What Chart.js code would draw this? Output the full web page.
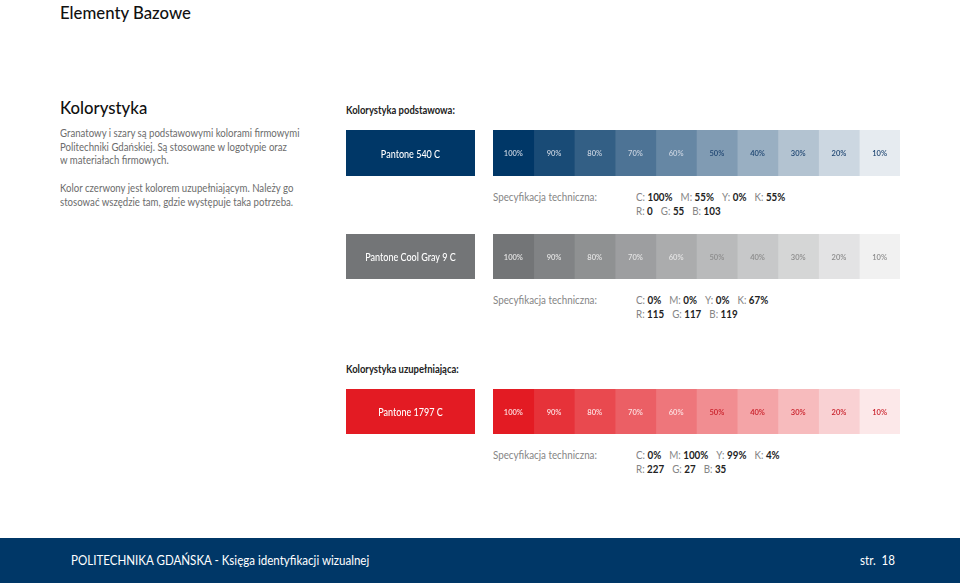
<!DOCTYPE html>
<html lang="pl">
<head>
<meta charset="utf-8">
<script src="https://cdn.jsdelivr.net/npm/chart.js@4.4.1/dist/chart.umd.min.js"></script>
<style>
  body { margin: 0; background: #fff; }
  #pagina { position: relative; width: 960px; height: 583px; overflow: hidden; font-family: "Lato", sans-serif; }
  .abs { position: absolute; white-space: nowrap; transform-origin: left top; }
  .titulo { font-size: 18px; color: #111; font-weight: 500; transform: scaleX(0.93); }
  .texto { font-size: 11px; color: #6c6c6c; line-height: 13.5px; transform: scaleX(0.875); }
  .sub { font-size: 11px; color: #222; font-weight: 700; transform: scaleX(0.86); }
  .spec { font-size: 11px; color: #858585; line-height: 14px; transform: scaleX(0.89); }
  .spec b { color: #222; font-weight: 700; }
  .spec span { margin-right: 9px; }
  canvas { position: absolute; }
  #pie { position: absolute; left: 0; top: 538px; width: 960px; height: 45px; background: #003767; }
  #pie .abs { color: #fff; font-size: 13px; top: 14px; transform: scaleX(0.89); }
</style>
</head>
<body>
<div id="pagina">
  <div class="abs titulo" style="left:60px; top:3px; line-height:18px;">Elementy Bazowe</div>
  <div class="abs titulo" style="left:60px; top:96px;">Kolorystyka</div>
  <div class="abs texto" style="left:60px; top:126px;">Granatowy i szary są podstawowymi kolorami firmowymi<br>Politechniki Gdańskiej. Są stosowane w logotypie oraz<br>w materiałach firmowych.</div>
  <div class="abs texto" style="left:60px; top:181px;">Kolor czerwony jest kolorem uzupełniającym. Należy go<br>stosować wszędzie tam, gdzie występuje taka potrzeba.</div>

  <div class="abs sub" style="left:346px; top:103px;">Kolorystyka podstawowa:</div>
  <div class="abs sub" style="left:346px; top:362px;">Kolorystyka uzupełniająca:</div>

  <canvas id="cajaGranat" width="129" height="46" style="left:346px; top:130px;"></canvas>
  <canvas id="franjaGranat" width="407" height="46" style="left:493px; top:130px;"></canvas>
  <div class="abs spec" style="left:493px; top:190px;">Specyfikacja techniczna:</div>
  <div class="abs spec" id="specGranat" style="left:636px; top:190px;"></div>

  <canvas id="cajaGris" width="129" height="45" style="left:346px; top:234px;"></canvas>
  <canvas id="franjaGris" width="407" height="45" style="left:493px; top:234px;"></canvas>
  <div class="abs spec" style="left:493px; top:293px;">Specyfikacja techniczna:</div>
  <div class="abs spec" id="specGris" style="left:636px; top:293px;"></div>

  <canvas id="cajaRojo" width="129" height="45" style="left:346px; top:389px;"></canvas>
  <canvas id="franjaRojo" width="407" height="45" style="left:493px; top:389px;"></canvas>
  <div class="abs spec" style="left:493px; top:448px;">Specyfikacja techniczna:</div>
  <div class="abs spec" id="specRojo" style="left:636px; top:448px;"></div>

  <div id="pie">
    <div class="abs" style="left:71px;">POLITECHNIKA GDAŃSKA - Księga identyfikacji wizualnej</div>
    <div class="abs" style="left:860px;">str.&nbsp;&nbsp;18</div>
  </div>
</div>
<script>
// Datos de los colores
const tonos = ['100%', '90%', '80%', '70%', '60%', '50%', '40%', '30%', '20%', '10%'];
const porcentajes = [100, 90, 80, 70, 60, 50, 40, 30, 20, 10];
const anchos = [10, 10, 10, 10, 10, 10, 10, 10, 10, 10];

const nombreGranat = 'Pantone 540 C';
const rgbGranat = [0, 55, 103];
const cmykGranat = ['100%', '55%', '0%', '55%'];

const nombreGris = 'Pantone Cool Gray 9 C';
const rgbGris = [115, 117, 119];
const cmykGris = ['0%', '0%', '0%', '67%'];

const nombreRojo = 'Pantone 1797 C';
const rgbRojo = [227, 27, 35];
const cmykRojo = ['0%', '100%', '99%', '4%'];

// color de un tono (mezcla con blanco)
function tono(rgb, p) {
    const c = rgb.map(v => Math.round(v * p / 100 + 255 * (1 - p / 100)));
    return 'rgb(' + c.join(',') + ')';
}

// Plugin que escribe la etiqueta en el centro de cada barra
const etiquetasPlugin = {
    id: 'etiquetas',
    afterDatasetsDraw(chart, args, opts) {
        const ctx = chart.ctx;
        chart.data.datasets.forEach((ds, i) => {
            const barra = chart.getDatasetMeta(i).data[0];
            const cx = (barra.x + barra.base) / 2;
            ctx.save();
            ctx.translate(cx, barra.y + 1);
            ctx.scale(opts.estirar, 1);
            ctx.fillStyle = ds.colorEtiqueta;
            ctx.font = opts.font;
            ctx.textAlign = 'center';
            ctx.textBaseline = 'middle';
            ctx.fillText(ds.label, 0, 0);
            ctx.restore();
        });
    }
};

function configBarra(datasets, fuente, estirar) {
    return {
        type: 'bar',
        data: { labels: [''], datasets: datasets },
        options: {
            indexAxis: 'y',
            responsive: false,
            animation: false,
            layout: { padding: 0 },
            plugins: {
                legend: { display: false },
                tooltip: { enabled: false },
                etiquetas: { font: fuente, estirar: estirar }
            },
            scales: {
                x: { display: false, stacked: true, min: 0, max: 100 },
                y: { display: false, stacked: true }
            }
        },
        plugins: [etiquetasPlugin]
    };
}

function crearCaja(id, nombre, rgb) {
    const ds = [{
        label: nombre,
        data: [100],
        backgroundColor: tono(rgb, 100),
        colorEtiqueta: '#ffffff',
        borderWidth: 0,
        barPercentage: 1,
        categoryPercentage: 1
    }];
    new Chart(document.getElementById(id), configBarra(ds, '500 11px Lato', 0.82));
}

function crearFranja(id, rgb, claro, oscuro) {
    const ds = tonos.map((t, i) => ({
        label: t,
        data: [anchos[i]],
        backgroundColor: tono(rgb, porcentajes[i]),
        colorEtiqueta: porcentajes[i] > 50 ? claro : oscuro,
        borderWidth: 0,
        barPercentage: 1,
        categoryPercentage: 1
    }));
    new Chart(document.getElementById(id), configBarra(ds, '600 7.5px Lato', 1));
}

function escribirSpec(id, cmyk, rgb) {
    const letras = ['C', 'M', 'Y', 'K'];
    let html = letras.map((l, i) => '<span>' + l + ': <b>' + cmyk[i] + '</b></span>').join('');
    html += '<br>' + ['R', 'G', 'B'].map((l, i) => '<span>' + l + ': <b>' + rgb[i] + '</b></span>').join('');
    document.getElementById(id).innerHTML = html;
}

crearCaja('cajaGranat', nombreGranat, rgbGranat);
crearFranja('franjaGranat', rgbGranat, '#c9d3e0', '#1f4672');
escribirSpec('specGranat', cmykGranat, rgbGranat);

crearCaja('cajaGris', nombreGris, rgbGris);
crearFranja('franjaGris', rgbGris, '#e4e4e4', '#8c8c8c');
escribirSpec('specGris', cmykGris, rgbGris);

crearCaja('cajaRojo', nombreRojo, rgbRojo);
crearFranja('franjaRojo', rgbRojo, '#fde0e1', '#c9202a');
escribirSpec('specRojo', cmykRojo, rgbRojo);
</script>
</body>
</html>
